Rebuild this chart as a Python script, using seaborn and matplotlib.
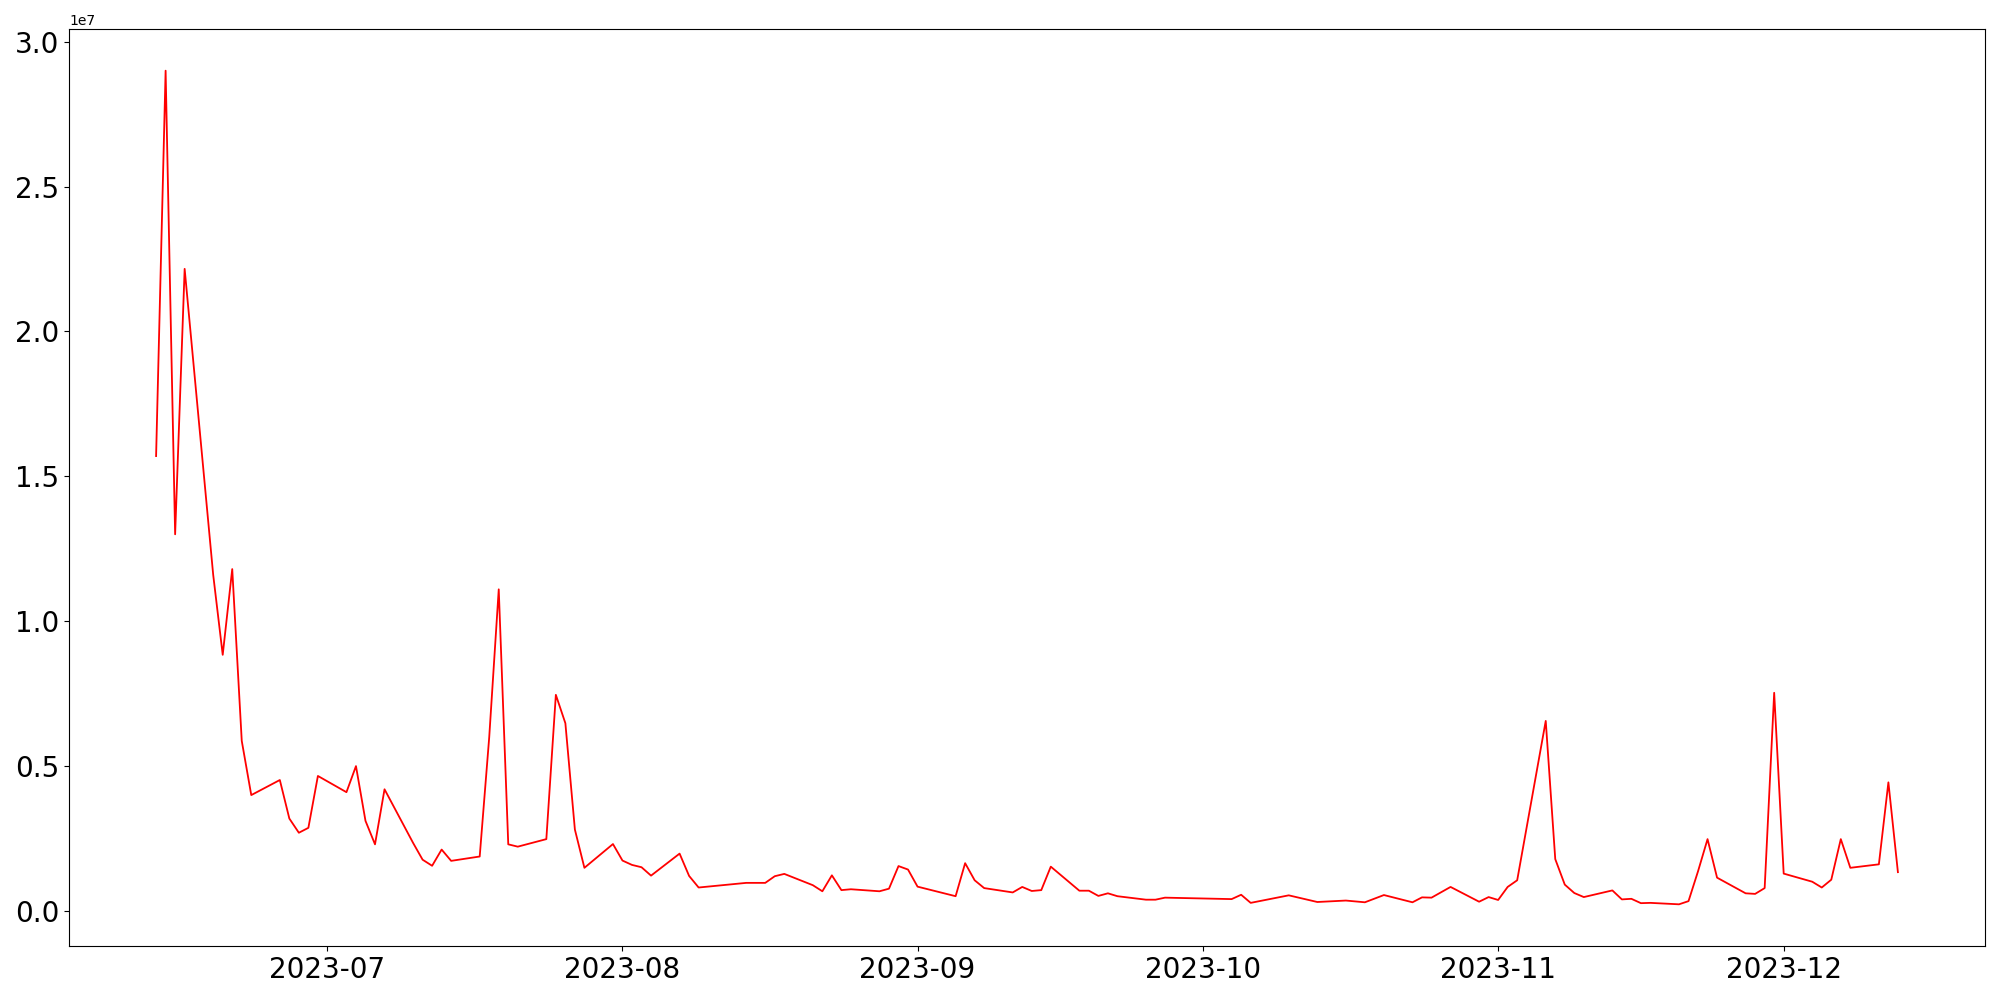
import numpy as np
import pandas as pd
import matplotlib
matplotlib.use('Agg')
import matplotlib.pyplot as plt
import seaborn as sns

# Trading days (weekdays, a few missing)
dates = [
    '2023-06-13', '2023-06-14', '2023-06-15', '2023-06-16', '2023-06-19', '2023-06-20',
    '2023-06-21', '2023-06-22', '2023-06-23', '2023-06-26', '2023-06-27', '2023-06-28',
    '2023-06-29', '2023-06-30', '2023-07-03', '2023-07-04', '2023-07-05', '2023-07-06',
    '2023-07-07', '2023-07-10', '2023-07-11', '2023-07-12', '2023-07-13', '2023-07-14',
    '2023-07-17', '2023-07-18', '2023-07-19', '2023-07-20', '2023-07-21', '2023-07-24',
    '2023-07-25', '2023-07-26', '2023-07-27', '2023-07-28', '2023-07-31', '2023-08-01',
    '2023-08-02', '2023-08-03', '2023-08-04', '2023-08-07', '2023-08-08', '2023-08-09',
    '2023-08-14', '2023-08-16', '2023-08-17', '2023-08-18', '2023-08-21', '2023-08-22',
    '2023-08-23', '2023-08-24', '2023-08-25', '2023-08-28', '2023-08-29', '2023-08-30',
    '2023-08-31', '2023-09-01', '2023-09-05', '2023-09-06', '2023-09-07', '2023-09-08',
    '2023-09-11', '2023-09-12', '2023-09-13', '2023-09-14', '2023-09-15', '2023-09-18',
    '2023-09-19', '2023-09-20', '2023-09-21', '2023-09-22', '2023-09-25', '2023-09-26',
    '2023-09-27', '2023-10-04', '2023-10-05', '2023-10-06', '2023-10-10', '2023-10-13',
    '2023-10-16', '2023-10-18', '2023-10-20', '2023-10-23', '2023-10-24', '2023-10-25',
    '2023-10-27', '2023-10-30', '2023-10-31', '2023-11-01', '2023-11-02', '2023-11-03',
    '2023-11-06', '2023-11-07', '2023-11-08', '2023-11-09', '2023-11-10', '2023-11-13',
    '2023-11-14', '2023-11-15', '2023-11-16', '2023-11-17', '2023-11-20', '2023-11-21',
    '2023-11-22', '2023-11-23', '2023-11-24', '2023-11-27', '2023-11-28', '2023-11-29',
    '2023-11-30', '2023-12-01', '2023-12-04', '2023-12-05', '2023-12-06', '2023-12-07',
    '2023-12-08', '2023-12-11', '2023-12-12', '2023-12-13',
]

# values in units of 1e7
values = [
    1.57, 2.90, 1.30, 2.216, 1.16, 0.884,
    1.18, 0.587, 0.400, 0.452, 0.319, 0.270,
    0.287, 0.466, 0.410, 0.500, 0.311, 0.230,
    0.420, 0.235, 0.177, 0.156, 0.212, 0.173,
    0.188, 0.600, 1.110, 0.230, 0.222, 0.248,
    0.746, 0.648, 0.281, 0.149, 0.231, 0.174,
    0.159, 0.151, 0.122, 0.198, 0.121, 0.081,
    0.097, 0.097, 0.120, 0.128, 0.089, 0.068,
    0.123, 0.072, 0.075, 0.068, 0.077, 0.155,
    0.143, 0.084, 0.051, 0.165, 0.106, 0.079,
    0.064, 0.083, 0.069, 0.072, 0.153, 0.070,
    0.070, 0.052, 0.061, 0.051, 0.039, 0.039,
    0.046, 0.041, 0.056, 0.028, 0.054, 0.031,
    0.036, 0.030, 0.055, 0.030, 0.047, 0.046,
    0.083, 0.032, 0.048, 0.038, 0.083, 0.106,
    0.656, 0.179, 0.091, 0.062, 0.048, 0.071,
    0.040, 0.042, 0.027, 0.028, 0.023, 0.034,
    0.137, 0.248, 0.115, 0.061, 0.059, 0.079,
    0.753, 0.129, 0.101, 0.081, 0.108, 0.248,
    0.149, 0.161, 0.444, 0.134,
]

df = pd.DataFrame({'date': pd.to_datetime(dates), 'value': np.array(values) * 1e7})

fig, ax = plt.subplots(figsize=(20, 10), dpi=100)
fig.subplots_adjust(left=0.0345, right=0.9925, top=0.971, bottom=0.054)

sns.lineplot(data=df, x='date', y='value', color='red', linewidth=1.3, ax=ax)

ax.set_xlabel('')
ax.set_ylabel('')
ax.tick_params(axis='both', labelsize=20)
ax.xaxis.set_major_formatter(matplotlib.dates.DateFormatter('%Y-%m'))

fig.savefig('out.png')
